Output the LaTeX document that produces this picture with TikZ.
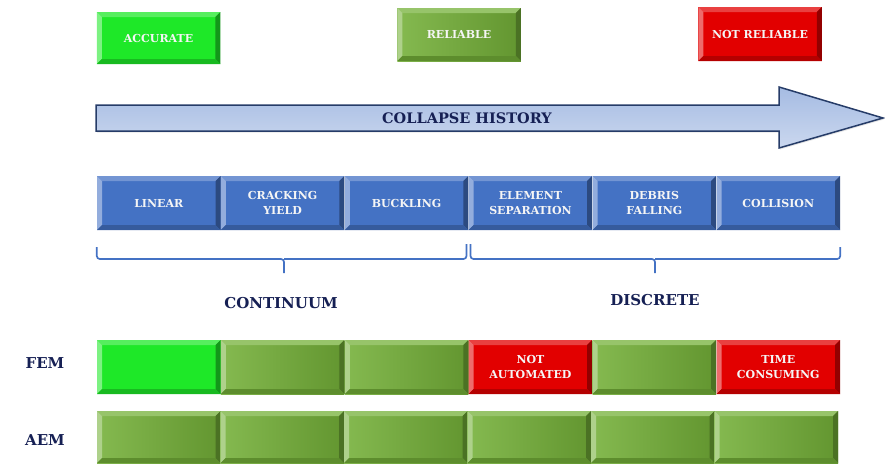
\documentclass[tikz,border=0pt]{standalone}
\usepackage{fontspec}
\setmainfont{DejaVu Serif}
\usepackage{tikz}
\usetikzlibrary{positioning,shadows}

\definecolor{accgreen}{RGB}{30,232,40}
\definecolor{relgreen}{RGB}{116,176,56}
\definecolor{badred}{RGB}{226,0,0}
\definecolor{stageblue}{RGB}{68,114,196}
\definecolor{navy}{RGB}{22,32,84}
\definecolor{arrowline}{RGB}{38,60,104}

\begin{document}
\begin{tikzpicture}[x=1pt, y=-1pt,
		bevel/.style = {fill=#1, path picture={
				\path (path picture bounding box.north west) coordinate (bnw)
				(path picture bounding box.north east) coordinate (bne)
				(path picture bounding box.south east) coordinate (bse)
				(path picture bounding box.south west) coordinate (bsw);
				\fill[#1!75!white] (bnw) -- (bne) -- ([shift={(-5pt,-5pt)}]bne) -- ([shift={(5pt,-5pt)}]bnw) -- cycle;
				\fill[#1!58!white] (bnw) -- (bsw) -- ([shift={(5pt,5pt)}]bsw) -- ([shift={(5pt,-5pt)}]bnw) -- cycle;
				\fill[#1!65!black] (bne) -- (bse) -- ([shift={(-5pt,5pt)}]bse) -- ([shift={(-5pt,-5pt)}]bne) -- cycle;
				\fill[#1!80!black] (bsw) -- (bse) -- ([shift={(-5pt,5pt)}]bse) -- ([shift={(5pt,5pt)}]bsw) -- cycle;
		}},
		basic/.style  = {inner sep=0pt, minimum width=123.5pt, minimum height=54pt, align=center, text=white!96!black, font=\fontsize{11}{15.5}\selectfont\bfseries},
		stage/.style  = {basic, bevel=stageblue},
		accurate/.style = {basic, bevel=accgreen},
		reliable/.style = {basic, bevel=relgreen, left color=relgreen!88!white, right color=relgreen!85!black},
		notreliable/.style = {basic, bevel=badred},
		grouplabel/.style = {text=navy, font=\fontsize{15}{17}\selectfont\bfseries},
		bracket/.style = {draw=stageblue, line width=1.7pt, rounded corners=3pt}]
	
	\useasboundingbox (0,0) rectangle (885,463);
	
	% legend on top
	\node[accurate, minimum height=52pt] (legacc) at (158.5,38) {ACCURATE};
	\node[reliable, minimum height=53pt] (legrel) at (459,34.5) {RELIABLE};
	\node[notreliable] (legnot) at (760,34) {NOT RELIABLE};
	
	% the time arrow
	\path[draw=arrowline, line width=1.5pt, top color=stageblue!48!white, bottom color=stageblue!28!white,
	drop shadow={opacity=0.2, shadow xshift=1pt, shadow yshift=-1.5pt}]
	(96,105) -- (779,105) -- (779,87) -- (883,118) -- (779,148) -- (779,131) -- (96,131) -- cycle;
	\node[text=navy, font=\fontsize{14.5}{16}\selectfont\bfseries] (history) at (467,118) {COLLAPSE HISTORY};
	
	% stages of the collapse
	\node[stage] (linear) at (158.75,203) {LINEAR};
	\node[stage, right=0pt of linear] (cracking) {CRACKING\\YIELD};
	\node[stage, right=0pt of cracking] (buckling) {BUCKLING};
	\node[stage, right=0pt of buckling] (separation) {ELEMENT\\SEPARATION};
	\node[stage, right=0pt of separation] (debris) {DEBRIS\\FALLING};
	\node[stage, right=0pt of debris] (collision) {COLLISION};
	
	% brackets under the stages
	\coordinate (contip) at (284,273);
	\coordinate (distip) at (655,273);
	\draw[bracket] ([yshift=-17pt]linear.south west) |- (contip |- 0,259) -- (contip);
	\draw[bracket] (contip |- 0,259) -| ([xshift=-2pt,yshift=-14pt]buckling.south east);
	\draw[bracket] ([xshift=2pt,yshift=-14pt]separation.south west) |- (distip |- 0,259) -- (distip);
	\draw[bracket] (distip |- 0,259) -| ([yshift=-17pt]collision.south east);
	\node[grouplabel] (continuum) at (281,303) {CONTINUUM};
	\node[grouplabel] (discrete) at (655,300) {DISCRETE};
	
	% FEM row
	\node[grouplabel] (fem) at (45,363) {FEM};
	\node[accurate] (fem1) at (158.75,367) {};
	\node[reliable, right=0pt of fem1] (fem2) {};
	\node[reliable, right=0pt of fem2] (fem3) {};
	\node[notreliable, right=0pt of fem3] (fem4) {NOT\\AUTOMATED};
	\node[reliable, right=0pt of fem4] (fem5) {};
	\node[notreliable, right=0pt of fem5] (fem6) {TIME\\CONSUMING};
	
	% AEM row
	\node[grouplabel] (aem) at (45,440) {AEM};
	\foreach \i in {1,...,6}
	\node[reliable, minimum height=52pt] (aem\i) at ({97+123.5*(\i-0.5)},437) {};
	
\end{tikzpicture}
\end{document}
